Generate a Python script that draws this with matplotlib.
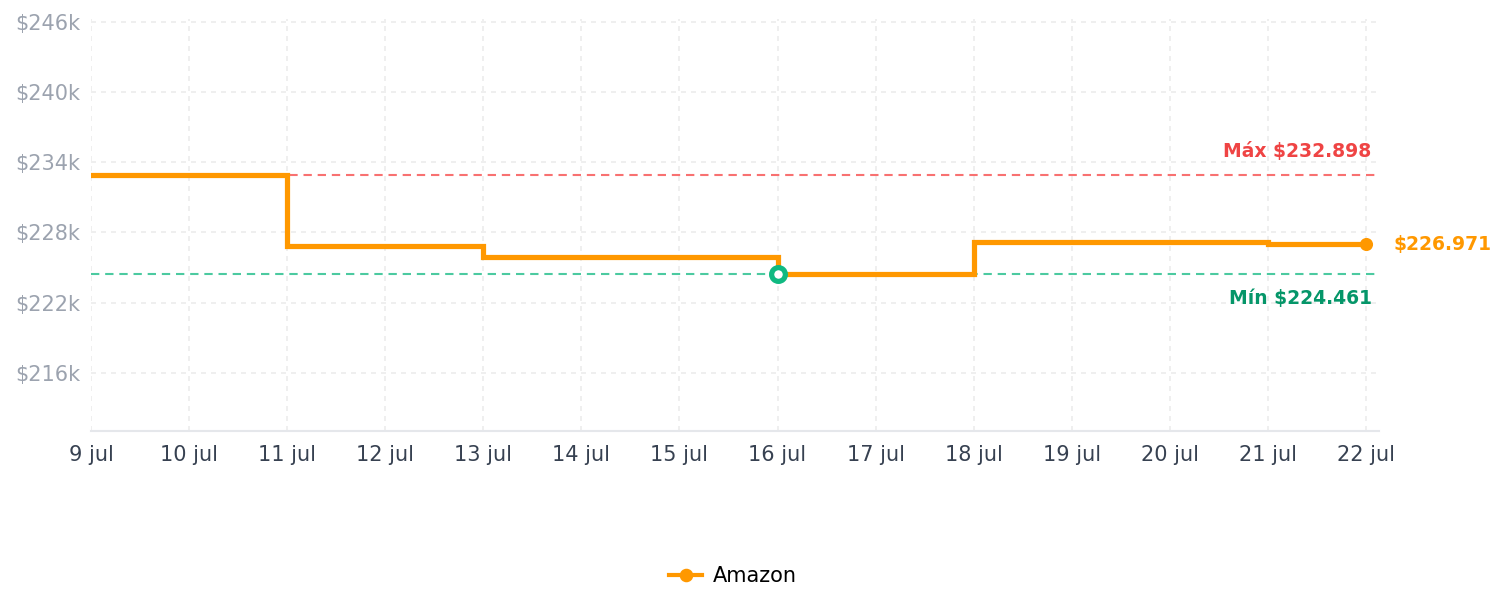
import matplotlib
matplotlib.use("Agg")
import matplotlib.pyplot as plt
import numpy as np

# ---- data ----
day_labels = ["9 jul", "10 jul", "11 jul", "12 jul", "13 jul", "14 jul", "15 jul",
              "16 jul", "17 jul", "18 jul", "19 jul", "20 jul", "21 jul", "22 jul"]
change_days = [0, 2, 4, 7, 9, 12, 13]          # index into day_labels
prices_k = [232.898, 226.85, 225.86, 224.461, 227.15, 226.971, 226.971]
max_price_k = 232.898
min_price_k = 224.461
min_day = 7
last_price_k = 226.971
y_ticks = [216, 222, 228, 234, 240, 246]
series_name = "Amazon"

ORANGE = "#ff9800"
RED_T = "#ef4444"
RED_L = "#f87171"
GREEN_T = "#059669"
GREEN_L = "#10b981"

fig = plt.figure(figsize=(1505 / 150, 610 / 150), dpi=150)
ax = fig.add_axes([91 / 1505, 1 - 431.3 / 610, (1379 - 91) / 1505, (431.3 - 19) / 610])

x = np.array(change_days, dtype=float)
y = np.array(prices_k)

ax.axhline(max_price_k, color=RED_L, lw=1.0, dashes=(4.0, 2.8), zorder=2)
ax.axhline(min_price_k, color=GREEN_L, lw=1.0, dashes=(4.0, 2.8), alpha=0.75, zorder=2)

ax.plot(x, y, drawstyle="steps-post", color=ORANGE, lw=2.5, zorder=3,
        solid_joinstyle="miter")
ax.plot([x[-1]], [last_price_k], "o", color=ORANGE, ms=6.3, mew=0, zorder=4)
ax.plot([min_day], [min_price_k], "o", mfc="white", mec=GREEN_L, ms=6.6, mew=2.5, zorder=5)

# legend proxy
(h,) = ax.plot([], [], "-o", color=ORANGE, lw=2.0, ms=5.5, label=series_name)

ax.set_xlim(0, 13 + 13 / 98)
ax.set_ylim(211.0, 246.23)
ax.set_xticks(range(len(day_labels)))
ax.set_xticklabels(day_labels)
ax.set_yticks(y_ticks)
ax.set_yticklabels([f"${v}k" for v in y_ticks])

ax.tick_params(axis="both", length=0, labelsize=10)
ax.tick_params(axis="y", colors="#9ca3af", pad=5.0)
ax.tick_params(axis="x", colors="#374151", pad=6.5)

ax.grid(True, color="#ececec", lw=0.8, dashes=(3, 3))
ax.set_axisbelow(True)
for s in ["top", "right", "left"]:
    ax.spines[s].set_visible(False)
ax.spines["bottom"].set_color("#e5e7eb")
ax.spines["bottom"].set_linewidth(1.0)

ax.annotate(f"Máx ${max_price_k:.3f}", xy=(1, max_price_k),
            xycoords=("axes fraction", "data"), xytext=(-3.5, 6.5),
            textcoords="offset points", ha="right", va="bottom",
            color=RED_T, fontsize=9, fontweight="bold")
ax.annotate(f"Mín ${min_price_k:.3f}", xy=(1, min_price_k),
            xycoords=("axes fraction", "data"), xytext=(-3.5, -7.5),
            textcoords="offset points", ha="right", va="top",
            color=GREEN_T, fontsize=9, fontweight="bold")
ax.annotate(f"${last_price_k:.3f}", xy=(x[-1], last_price_k),
            xytext=(13.2, 0), textcoords="offset points", ha="left", va="center",
            color=ORANGE, fontsize=9, fontweight="bold", annotation_clip=False)

fig.legend(handles=[h], loc="center", bbox_to_anchor=(733 / 1505, 1 - 576 / 610),
           frameon=False, fontsize=10, handlelength=1.6, handletextpad=0.5)

fig.savefig("out.png", dpi=150)
